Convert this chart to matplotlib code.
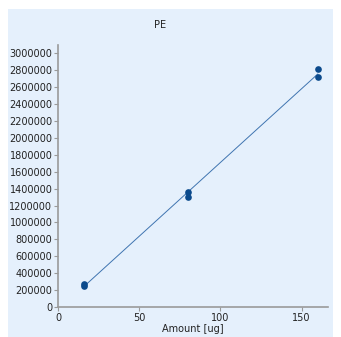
import numpy as np
import matplotlib
matplotlib.use("Agg")
import matplotlib.pyplot as plt
from matplotlib.patches import Rectangle

# Calibration data for PE
amount = [16, 16, 80, 80, 160, 160]
response = [250000, 270000, 1355000, 1305000, 2820000, 2720000]
x_ticks = [0, 50, 100, 150]
y_ticks = list(range(0, 3000001, 200000))

panel_color = "#E5F0FC"
text_color = "#222222"
spine_color = "#9a9a9a"

fig = plt.figure(figsize=(3.41, 3.37), dpi=100)
fig.patch.set_facecolor("white")
W, H = 341, 337
fig.patches.append(Rectangle((8 / W, 0), (333 - 8) / W, (H - 9) / H,
                             transform=fig.transFigure, facecolor=panel_color,
                             edgecolor="none", zorder=-10))

ax = fig.add_axes([58 / W, (H - 307) / H, 270 / W, 262 / H])
ax.set_zorder(1)
ax.set_facecolor("none")

# Least-squares calibration line across the measured range
slope, intercept = np.polyfit(amount, response, 1)
xl = np.array([min(amount), max(amount)])
ax.plot(xl, slope * xl + intercept, color="#3f74b0", lw=0.7, zorder=2)
ax.plot(amount, response, "o", color="#0b4a8c", ms=4.8, mec="none", zorder=3)

ax.set_xlim(0, 166.3)
ax.set_ylim(0, 3.1e6)
ax.set_xticks(x_ticks)
ax.set_yticks(y_ticks)
ax.set_yticklabels([str(v) for v in y_ticks])
ax.tick_params(labelsize=7, colors=spine_color, labelcolor=text_color,
               length=3, width=0.8, pad=1)
for side in ("top", "right"):
    ax.spines[side].set_visible(False)
for side in ("left", "bottom"):
    ax.spines[side].set_color(spine_color)
    ax.spines[side].set_linewidth(1.2)

ax.set_xlabel("Amount [ug]", fontsize=7, color=text_color, labelpad=1)
fig.text(160 / W, 1 - 25 / H, "PE", fontsize=7, color=text_color,
         ha="center", va="center")

fig.savefig("out.png", dpi=100)
